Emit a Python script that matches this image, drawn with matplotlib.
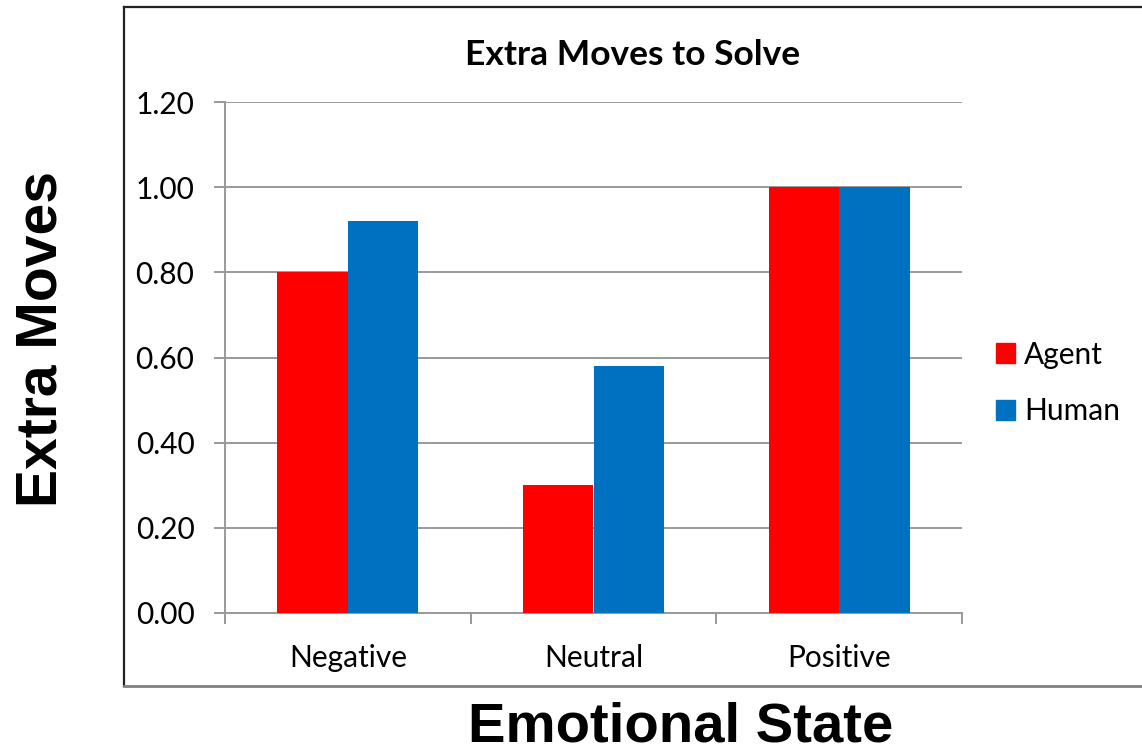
import matplotlib
matplotlib.use("Agg")
import matplotlib.pyplot as plt
import numpy as np
from matplotlib.lines import Line2D
from matplotlib.patches import Patch

# data
states = ["Negative", "Neutral", "Positive"]
agent = [0.80, 0.30, 1.00]
human = [0.92, 0.58, 1.00]
yticks = [0.0, 0.2, 0.4, 0.6, 0.8, 1.0, 1.2]

W, H = 1142, 751
fig = plt.figure(figsize=(W / 100, H / 100), dpi=100)

def fx(px):
    return px / W

def fy(py):
    return 1 - py / H

# plot area in pixels: x 225..962, y 102..613
ax = fig.add_axes([fx(225), fy(613), fx(962) - fx(225), fy(102) - fy(613)])

x = np.arange(len(states))
bw = 0.287
ax.bar(x - bw / 2, agent, bw, color="#FF0000", zorder=3, label="Agent")
ax.bar(x + bw / 2, human, bw, color="#0070C0", zorder=3, label="Human")

ax.set_xlim(-0.5, len(states) - 0.5)
ax.set_ylim(0, 1.2)
ax.set_yticks(yticks)
ax.set_yticklabels([f"{v:.2f}" for v in yticks])
ax.set_xticks(x)
ax.set_xticklabels(states)
ax.set_xticks(np.arange(len(states) + 1) - 0.5, minor=True)

ax.grid(axis="y", color="#999999", linewidth=1.4, zorder=0)
for s in ["top", "right"]:
    ax.spines[s].set_visible(False)
for s in ["left", "bottom"]:
    ax.spines[s].set_color("#999999")
    ax.spines[s].set_linewidth(1.4)

ax.tick_params(axis="y", length=8, width=1.4, color="#999999", pad=14)
ax.tick_params(axis="x", which="major", length=0, pad=22)
ax.tick_params(axis="x", which="minor", length=8, width=1.4, color="#999999")
for t in ax.get_xticklabels() + ax.get_yticklabels():
    t.set_fontfamily("Lato")
    t.set_fontsize(21.5)

handles = [Patch(color="#FF0000", label="Agent"), Patch(color="#0070C0", label="Human")]
fig.legend(handles=handles, loc="center left", bbox_to_anchor=(fx(969), fy(383)),
           frameon=False, prop=dict(family="Lato", size=21.5),
           handlelength=0.65, handleheight=0.65, handletextpad=0.3, labelspacing=0.95)

fig.text(fx(633), fy(65), "Extra Moves to Solve", ha="center", va="baseline",
         family="Lato", weight="bold", size=25.5)
fig.text(fx(681), fy(741), "Emotional State", ha="center", va="baseline",
         family="Liberation Sans", weight="bold", size=40.5)
fig.text(fx(57), fy(339), "Extra Moves", ha="center", va="baseline", rotation=90,
         rotation_mode="anchor", family="Liberation Sans", weight="bold", size=41)

# frame around the chart
fig.add_artist(Line2D([fx(124), 1], [fy(7), fy(7)], color="#222222", linewidth=1.6))
fig.add_artist(Line2D([fx(124), fx(124)], [fy(7), fy(686)], color="#222222", linewidth=1.6))
fig.add_artist(Line2D([fx(124), 1], [fy(686), fy(686)], color="#808080", linewidth=2))

fig.savefig("out.png", dpi=100)
